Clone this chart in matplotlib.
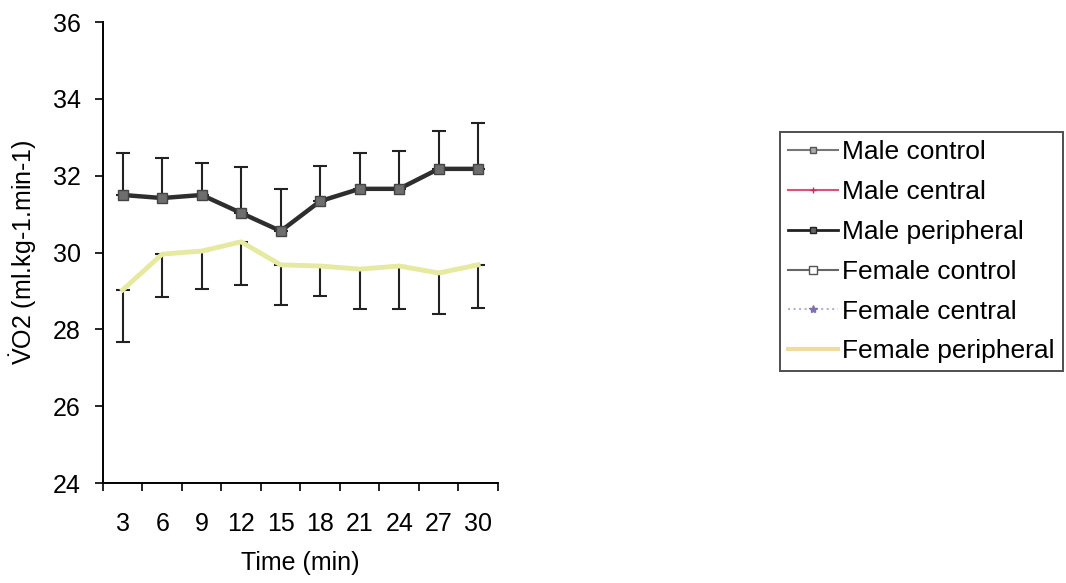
import matplotlib
matplotlib.use('Agg')
import matplotlib.pyplot as plt
from matplotlib.lines import Line2D
import numpy as np

plt.rcParams['font.family'] = ['Liberation Sans', 'DejaVu Sans']
plt.rcParams['mathtext.fontset'] = 'custom'
plt.rcParams['mathtext.rm'] = 'Liberation Sans'

# time points (min)
time_labels = ['3', '6', '9', '12', '15', '18', '21', '24', '27', '30']

# male mean VO2 and upper error
male_mean = [31.50, 31.42, 31.50, 31.03, 30.56, 31.34, 31.66, 31.66, 32.18, 32.18]
male_err = [1.10, 1.04, 0.83, 1.20, 1.10, 0.91, 0.94, 0.99, 0.99, 1.20]

# female mean VO2 and lower error
female_mean = [29.03, 29.96, 30.04, 30.28, 29.68, 29.65, 29.57, 29.65, 29.47, 29.68]
female_err = [1.36, 1.12, 0.99, 1.12, 1.04, 0.78, 1.04, 1.12, 1.07, 1.12]

legend_names = ['Male control', 'Male central', 'Male peripheral',
                'Female control', 'Female central', 'Female peripheral']

fig = plt.figure(figsize=(10.66, 5.83), dpi=100)
ax = fig.add_axes([0.0966, 0.1715, 0.3705, 0.7905])

x = np.arange(1, len(time_labels) + 1)

# error bars first so the lines sit on top
ax.errorbar(x, male_mean, yerr=[np.zeros(len(x)), male_err], fmt='none',
            ecolor='#222222', elinewidth=1.5, capsize=5, capthick=1.5)
ax.errorbar(x, female_mean, yerr=[female_err, np.zeros(len(x))], fmt='none',
            ecolor='#222222', elinewidth=1.5, capsize=5, capthick=1.5)

ax.plot(x, male_mean, color='#2e2e2e', lw=3.2, marker='s', ms=7,
        mfc='#6e6e6e', mec='#444444', zorder=3)
ax.plot(x, female_mean, color='#e6eaa0', lw=3.5, zorder=3)

ax.set_xlim(0.5, len(x) + 0.5)
ax.set_ylim(24, 36)
ax.set_yticks(np.arange(24, 37, 2))
ax.set_xticks(x)
ax.set_xticklabels(time_labels)
ax.set_xticks(np.arange(0.5, len(x) + 1, 1), minor=True)
ax.tick_params(axis='x', which='major', length=0, pad=21, labelsize=18)
ax.tick_params(axis='x', which='minor', length=6, width=1.2, direction='out')
ax.tick_params(axis='y', length=6, width=1.2, direction='out', labelsize=18, pad=10)

for side in ['top', 'right']:
    ax.spines[side].set_visible(False)
for side in ['left', 'bottom']:
    ax.spines[side].set_linewidth(1.4)

ax.set_xlabel('Time (min)', fontsize=18, labelpad=11)
ax.set_ylabel(r'$\dot{\mathrm{V}}$O2 (ml.kg-1.min-1)', fontsize=18, labelpad=10)

handles = [
    Line2D([], [], color='#777777', lw=1.5, marker='s', ms=5, mfc='#aaaaaa', mec='#555555'),
    Line2D([], [], color='#e0507a', lw=1.5, marker='+', ms=5, mec='#c03060'),
    Line2D([], [], color='#222222', lw=2, marker='s', ms=5, mfc='#666666', mec='#222222'),
    Line2D([], [], color='#666666', lw=1.5, marker='s', ms=6, mfc='white', mec='#555555'),
    Line2D([], [], color='#b8b0d8', lw=1.5, ls=':', marker='*', ms=6, mfc='#8070b0', mec='#8070b0'),
    Line2D([], [], color='#f0dca0', lw=3),
]
leg = fig.legend(handles, legend_names, loc='upper right',
                 bbox_to_anchor=(0.997, 0.773), fontsize=19, frameon=True,
                 fancybox=False, edgecolor='#222222', handlelength=1.9,
                 handletextpad=0.15, labelspacing=0.6, borderpad=0.3,
                 borderaxespad=0)
leg.get_frame().set_linewidth(1.4)

fig.savefig('out.png', dpi=100)
